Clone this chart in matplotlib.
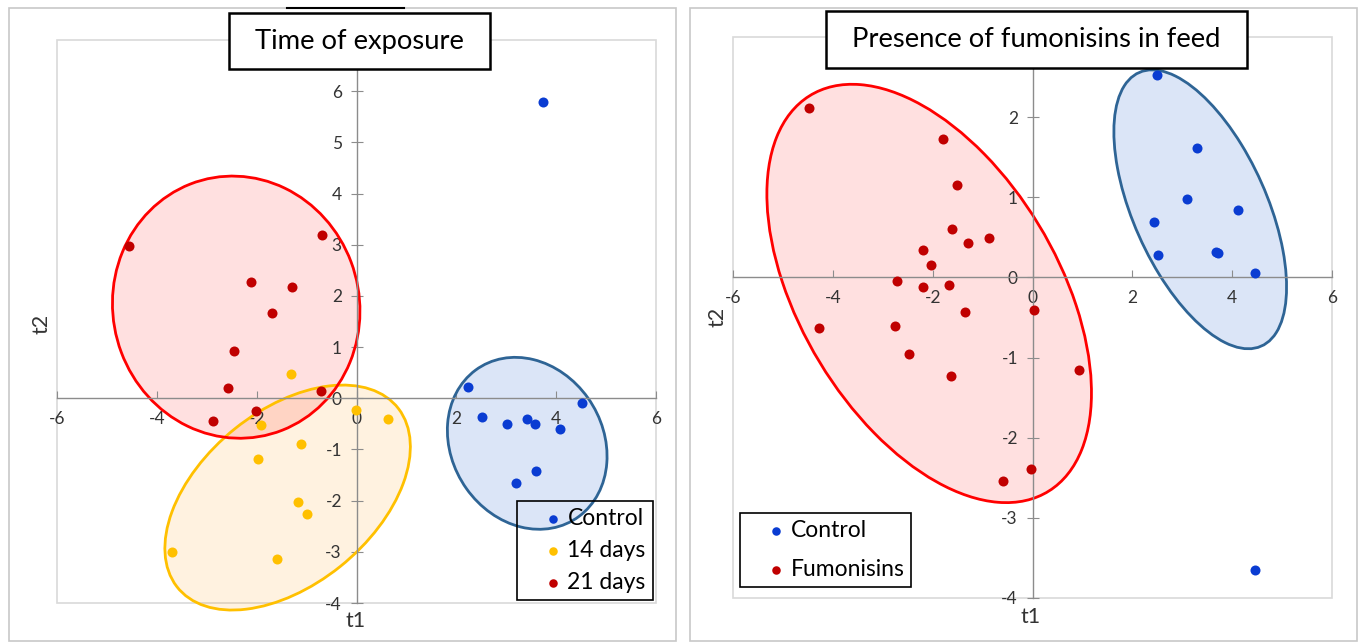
import matplotlib
matplotlib.use("Agg")
import matplotlib.pyplot as plt
from matplotlib.patches import Ellipse, Rectangle
from matplotlib.lines import Line2D

plt.rcParams['font.family'] = ['Lato', 'DejaVu Sans']
plt.rcParams['axes.unicode_minus'] = False

# ---------------- data: left panel (time of exposure) ----------------
ctrl_t1 = [3.74, 2.24, 2.52, 3.02, 3.42, 3.58, 4.52, 4.08, 3.59, 3.20]
ctrl_t2 = [5.78, 0.22, -0.36, -0.51, -0.41, -0.51, -0.10, -0.60, -1.42, -1.66]
d14_t1 = [-1.31, -0.02, 0.64, -1.91, -1.11, -1.97, -1.18, -0.99, -3.69, -1.59]
d14_t2 = [0.48, -0.22, -0.41, -0.52, -0.90, -1.19, -2.02, -2.26, -3.00, -3.15]
d21_t1 = [-4.55, -0.69, -2.12, -1.29, -1.69, -2.46, -2.57, -0.71, -2.01, -2.87]
d21_t2 = [2.98, 3.19, 2.27, 2.18, 1.67, 0.92, 0.20, 0.14, -0.24, -0.44]

# ---------------- data: right panel (fumonisins) ----------------
rc_t1 = [2.50, 3.30, 3.09, 4.12, 2.44, 2.51, 3.68, 3.72, 4.45, 4.45]
rc_t2 = [2.52, 1.62, 0.98, 0.84, 0.69, 0.28, 0.32, 0.30, 0.06, -3.65]
fb_t1 = [-4.47, -1.79, -1.52, -1.61, -0.87, -1.29, -2.20, -2.04, -2.71, -2.20,
         -1.68, -4.28, -2.76, -1.36, 0.04, -2.47, -1.64, 0.93, -0.04, -0.59]
fb_t2 = [2.11, 1.73, 1.15, 0.61, 0.49, 0.43, 0.34, 0.15, -0.04, -0.12,
         -0.09, -0.63, -0.61, -0.43, -0.41, -0.95, -1.23, -1.16, -2.39, -2.54]

x_ticks = [-6, -4, -2, 0, 2, 4, 6]
left_y_ticks = [-4, -3, -2, -1, 0, 1, 2, 3, 4, 5, 6]
right_y_ticks = [-4, -3, -2, -1, 0, 1, 2]

# confidence ellipses (center, width, height, angle, edge, fill, alpha)
left_ellipses = [
    ((3.42, -0.88), 3.53, 3.01, -54, '#2e6495', '#4f81d9', 0.20),
    ((-1.38, -1.94), 5.64, 3.42, 38, '#ffc000', '#ff9b11', 0.13),
    ((-2.41, 1.78), 5.15, 4.93, -69, '#ff0000', '#ff0000', 0.12),
]
right_ellipses = [
    ((3.36, 0.85), 4.33, 2.31, -45.3, '#2e6495', '#4f81d9', 0.20),
    ((-2.07, -0.20), 7.25, 4.12, -32.5, '#ff0000', '#ff0000', 0.12),
]

BLUE = '#0a3cd2'
ORANGE = '#ffc000'
RED = '#c00000'

W, H = 1363, 642
fig = plt.figure(figsize=(W / 100, H / 100), dpi=100)


def fx(px):
    return px / W


def fy(py):
    return 1 - py / H


# outer panel frames
for x0, x1 in [(9, 676), (690, 1357)]:
    fig.patches.append(Rectangle((fx(x0), fy(641)), fx(x1) - fx(x0), fy(8) - fy(641),
                                 transform=fig.transFigure, fill=False,
                                 ec='#c8c8c8', lw=1.2))
fig.lines.append(Line2D([fx(287), fx(404)], [fy(8), fy(8)], transform=fig.transFigure,
                        color='black', lw=1.5))


def style_axes(ax, yticks, ylim):
    ax.set_xlim(-6, 6)
    ax.set_ylim(*ylim)
    for s in ['top', 'right']:
        ax.spines[s].set_visible(False)
    for s in ['left', 'bottom']:
        ax.spines[s].set_position(('data', 0))
        ax.spines[s].set_color('#8c8c8c')
        ax.spines[s].set_linewidth(1.0)
    ax.set_xticks(x_ticks)
    ax.set_yticks(yticks)
    ax.tick_params(axis='x', direction='in', length=5, color='#8c8c8c', labelsize=12.5,
                   labelcolor='#333333', pad=9)
    ax.tick_params(axis='y', direction='inout', length=9, color='#8c8c8c', labelsize=12.5,
                   labelcolor='#333333', pad=6)
    ax.patch.set_alpha(0)
    ax.add_patch(Rectangle((0, 0), 1, 1, transform=ax.transAxes, fill=False,
                           ec='#d9d9d9', lw=1.2, clip_on=False, zorder=0))


def add_ellipses(ax, ells):
    for (c, w, h, a, ec, fc, al) in ells:
        ax.add_patch(Ellipse(c, w, h, angle=a, facecolor=fc, alpha=al, edgecolor='none',
                             zorder=1, clip_on=False))
        ax.add_patch(Ellipse(c, w, h, angle=a, facecolor='none', edgecolor=ec, lw=2.0,
                             zorder=2, clip_on=False))


def make_legend(ax, anchor, spacing):
    leg = ax.legend(loc='upper left', bbox_to_anchor=anchor,
                    bbox_transform=fig.transFigure, fontsize=16.5, frameon=True,
                    fancybox=False, edgecolor='black', borderaxespad=0,
                    handletextpad=-0.6, handlelength=2.5, markerscale=0.85,
                    labelspacing=spacing, borderpad=0.3)
    fr = leg.get_frame()
    fr.set_linewidth(1.2)
    fr.set_facecolor((1, 1, 1, 0))
    fr.set_edgecolor('black')
    fr.set_alpha(None)
    return leg


ms = 52

# ---------------- left panel ----------------
axL = fig.add_axes([fx(57), fy(603), fx(656) - fx(57), fy(40) - fy(603)])
style_axes(axL, left_y_ticks, (-4, 7))
add_ellipses(axL, left_ellipses)
axL.scatter(ctrl_t1, ctrl_t2, s=ms, color=BLUE, zorder=3, label='Control', linewidths=0)
axL.scatter(d14_t1, d14_t2, s=ms, color=ORANGE, zorder=3, label='14 days', linewidths=0)
axL.scatter(d21_t1, d21_t2, s=ms, color=RED, zorder=3, label='21 days', linewidths=0)
make_legend(axL, (fx(517), fy(501)), 0.48)

fig.text(fx(356), fy(621), 't1', fontsize=15.5, ha='center', va='center', color='#333333')
fig.text(fx(41), fy(324), 't2', fontsize=15.5, ha='center', va='center', rotation=90, color='#333333')

# ---------------- right panel ----------------
axR = fig.add_axes([fx(733), fy(598), fx(1332) - fx(733), fy(37) - fy(598)])
style_axes(axR, right_y_ticks, (-4, 3))
add_ellipses(axR, right_ellipses)
axR.scatter(rc_t1, rc_t2, s=ms, color=BLUE, zorder=3, label='Control', linewidths=0)
axR.scatter(fb_t1, fb_t2, s=ms, color=RED, zorder=3, label='Fumonisins', linewidths=0)
legR = make_legend(axR, (fx(740), fy(513)), 0.78)
legR.get_frame().set_facecolor('white')

fig.text(fx(1031), fy(617), 't1', fontsize=15.5, ha='center', va='center', color='#333333')
fig.text(fx(718), fy(317), 't2', fontsize=15.5, ha='center', va='center', rotation=90, color='#333333')

# ---------------- title boxes ----------------
for (x0, x1, y0, y1, txt) in [(229, 490, 13, 69, 'Time of exposure'),
                              (826, 1247, 11, 68, 'Presence of fumonisins in feed')]:
    fig.patches.append(Rectangle((fx(x0), fy(y1)), fx(x1) - fx(x0), fy(y0) - fy(y1),
                                 transform=fig.transFigure, facecolor='white',
                                 ec='black', lw=1.8, zorder=5))
    fig.text(fx((x0 + x1) / 2), fy((y0 + y1) / 2), txt, fontsize=19.7, ha='center',
             va='center', color='black', zorder=6)

fig.savefig('out.png', dpi=100)
